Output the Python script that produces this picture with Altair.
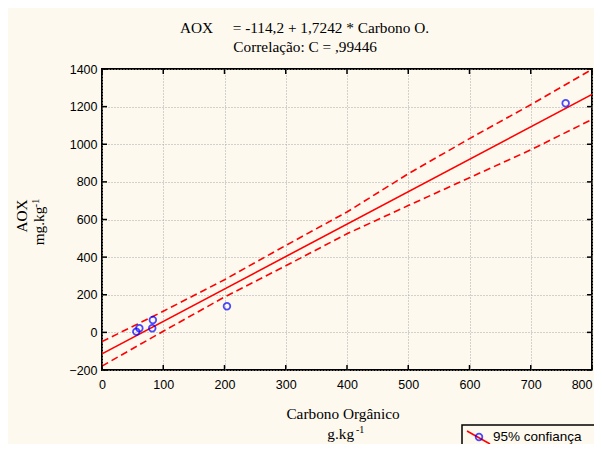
import altair as alt
import pandas as pd

CREAM = "#fdf9ef"
RED = "#ff0000"
BLUE = "#0000ff"
SERIF = "Liberation Serif"
SANS = "Liberation Sans"
FS = 15.3

# observed points (Carbono Orgânico, AOX)
x_pts = [56, 61, 82, 83, 204, 757]
y_pts = [4, 22, 22, 66, 139, 1218]

# fitted line AOX = -114.2 + 1.7242 * C (end points)
reg_x = [0, 800]
reg_y = [-114.2, 1265.2]

# 95% confidence band
band_x = [0, 100, 200, 300, 400, 500, 600, 700, 800]
band_upper = [-49, 112, 280, 462, 640, 843, 1030, 1210, 1398]
band_lower = [-179, 6, 188, 354, 524, 674, 822, 970, 1132]

x_ticks = [0, 100, 200, 300, 400, 500, 600, 700, 800]
y_ticks = [-200, 0, 200, 400, 600, 800, 1000, 1200, 1400]

W, H = 490, 301

xs = alt.Scale(domain=[0, 800], nice=False, zero=False)
ys = alt.Scale(domain=[-200, 1400], nice=False, zero=False)
xaxis = alt.Axis(values=x_ticks, format="d", title=None, grid=True, gridDash=[1, 2], gridColor="#a8a8a8",
                 domain=False, ticks=False, labelPadding=8, labelFont=SANS, labelFontSize=12.5,
                 labelColor="black", labelFlush=False,
                 labelAlign=alt.expr("datum.value == 800 ? 'right' : 'center'"))
yaxis = alt.Axis(values=y_ticks, format="d", title=None, grid=True, gridDash=[1, 2], gridColor="#a8a8a8",
                 domain=False, ticks=False, labelPadding=5, labelFont=SANS, labelFontSize=12.5,
                 labelColor="black", labelFlush=False)
X = alt.X("x:Q", scale=xs, axis=xaxis)
Y = alt.Y("y:Q", scale=ys, axis=yaxis)

pts = pd.DataFrame({"x": x_pts, "y": y_pts})
reg = pd.DataFrame({"x": reg_x, "y": reg_y})
up = pd.DataFrame({"x": band_x, "y": band_upper})
lo = pd.DataFrame({"x": band_x, "y": band_lower})
xt = pd.DataFrame({"x": x_ticks})
yt = pd.DataFrame({"y": y_ticks})
one = pd.DataFrame({"k": [0]})

upper_l = alt.Chart(up).mark_line(color=RED, strokeWidth=1.6, strokeDash=[7, 4], clip=True).encode(x=X, y=Y)
lower_l = alt.Chart(lo).mark_line(color=RED, strokeWidth=1.6, strokeDash=[7, 4], clip=True).encode(x=X, y=Y)
reg_l = alt.Chart(reg).mark_line(color=RED, strokeWidth=1.6, clip=True).encode(x=X, y=Y)
pts_l = alt.Chart(pts).mark_point(shape="circle", filled=False, color=BLUE, size=44, strokeWidth=1.8).encode(x=X, y=Y)

tick_top = alt.Chart(xt).mark_rule(color="black", strokeWidth=1.5).encode(x=X, y=alt.value(0), y2=alt.value(5))
tick_bot = alt.Chart(xt).mark_rule(color="black", strokeWidth=1.5).encode(x=X, y=alt.value(H), y2=alt.value(H - 5))
tick_left = alt.Chart(yt).mark_rule(color="black", strokeWidth=1.5).encode(y=Y, x=alt.value(0), x2=alt.value(5))
tick_right = alt.Chart(yt).mark_rule(color="black", strokeWidth=1.5).encode(y=Y, x=alt.value(W), x2=alt.value(W - 5))


def txt(s, x, y, size=FS, font=SERIF, align="left", baseline="alphabetic", angle=0):
    kw = dict(font=font, fontSize=size, align=align, baseline=baseline, color="black")
    if angle:
        kw["angle"] = angle
    return alt.Chart(one).mark_text(**kw).encode(x=alt.value(x), y=alt.value(y), text=alt.value(s))


texts = [
    txt("AOX", 78, -35.7),
    txt("= -114,2 + 1,7242 * Carbono O.", 130.7, -35.7),
    txt("Correlação: C = ,99446", 131.3, -16.7),
    txt("Carbono Orgânico", 241, 350, align="center"),
    txt("g.kg", 225.3, 370),
    txt("-1", 254, 364.3, size=10),
    txt("AOX", -80, 147, align="center", baseline="middle", angle=270),
    txt("mg.kg", -58, 157, align="center", angle=270),
    txt("-1", -63, 134, size=10, align="center", angle=270),
]

LY = 356  # legend box top (plot coords)
leg_box = alt.Chart(one).mark_rect(fill=CREAM, stroke="black", strokeWidth=1.5).encode(
    x=alt.value(360), x2=alt.value(498), y=alt.value(LY), y2=alt.value(LY + 40))
leg_line = alt.Chart(one).mark_rule(color=RED, strokeWidth=1.6).encode(
    x=alt.value(365), x2=alt.value(388), y=alt.value(LY + 6), y2=alt.value(LY + 19))
leg_pt = alt.Chart(one).mark_point(shape="circle", filled=False, color=BLUE, size=44, strokeWidth=1.8).encode(
    x=alt.value(377), y=alt.value(LY + 12))
leg_txt = txt("95% confiança", 391, LY + 12, size=13.5, font=SANS, baseline="middle")

chart = alt.layer(
    upper_l, lower_l, reg_l, pts_l, tick_top, tick_bot, tick_left, tick_right,
    *texts, leg_box, leg_line, leg_pt, leg_txt
).properties(
    width=W, height=H,
    autosize=alt.AutoSizeParams(type="none"),
    padding={"left": 94, "top": 61, "right": 2, "bottom": 74},
    background=CREAM,
).configure_view(stroke="black", strokeWidth=2)

chart.save("out.html", embed_options={"renderer": "svg", "actions": False})
